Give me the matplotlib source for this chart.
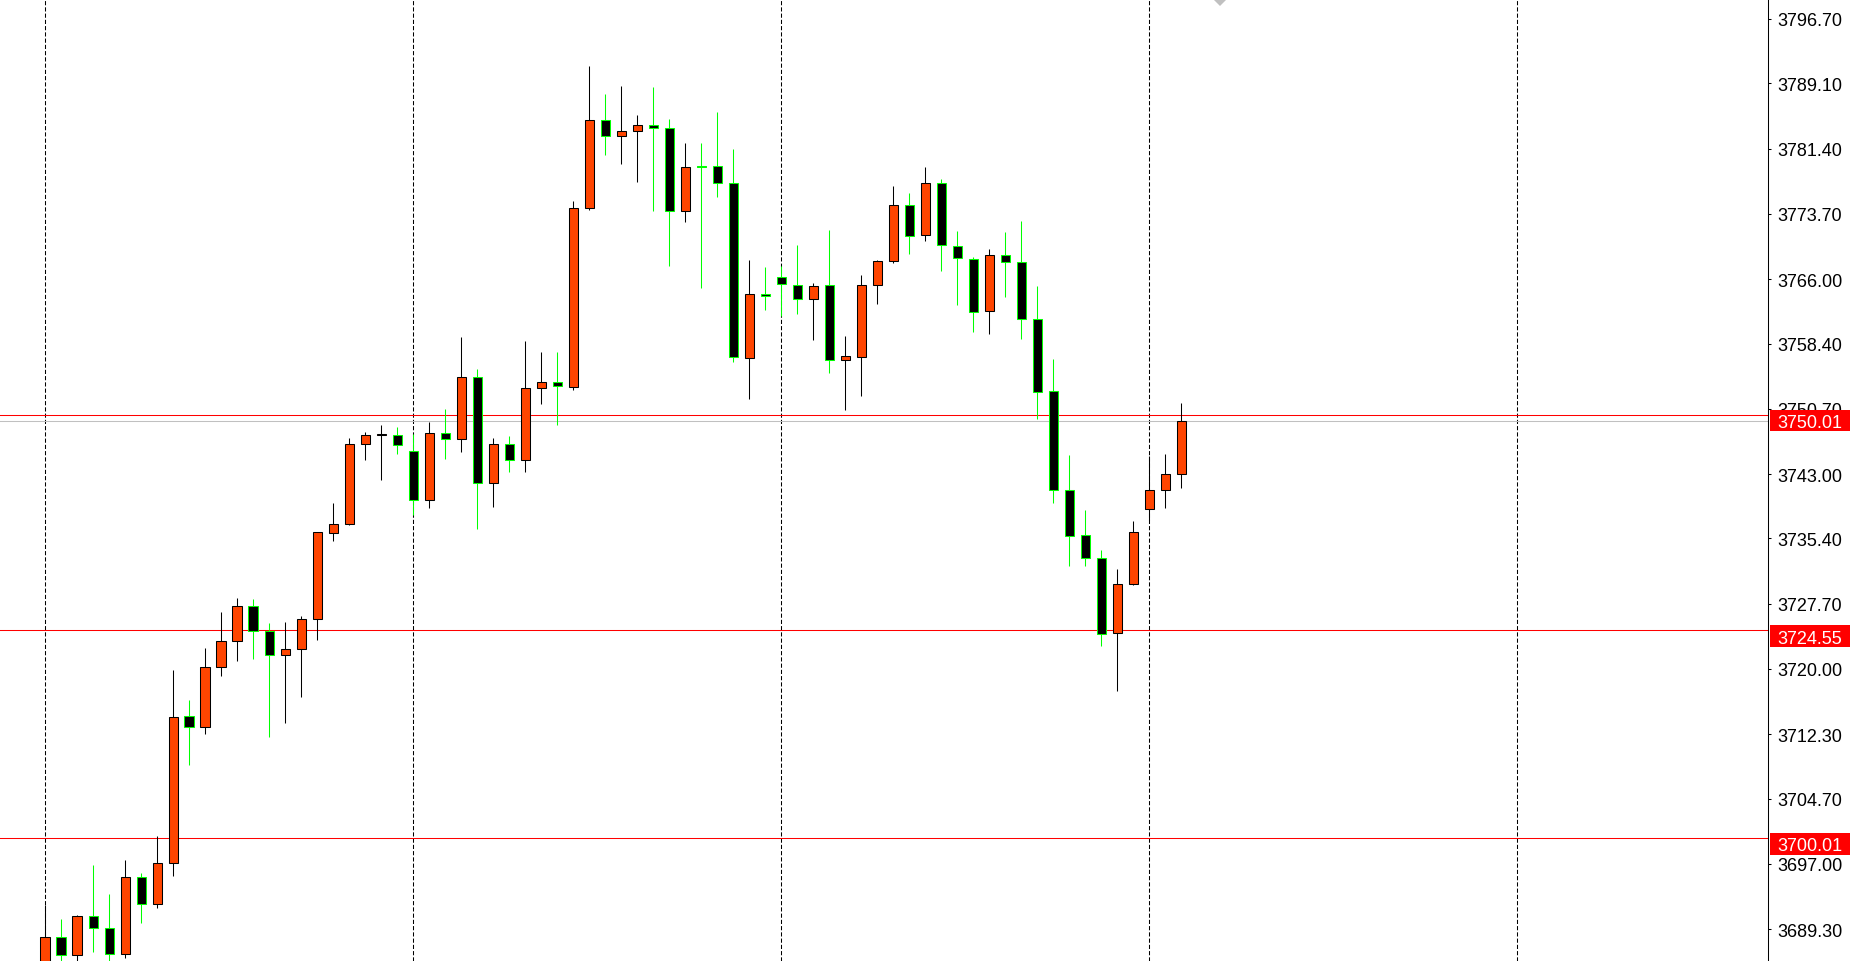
import matplotlib.pyplot as plt
from matplotlib.patches import Rectangle, Polygon
from matplotlib.transforms import blended_transform_factory

# OHLC, one bar per slot
opens = [3684.0, 3688.3, 3686.2, 3690.8, 3689.4, 3686.3, 3695.4, 3692.2, 3697.05, 3714.4,
         3713.1, 3720.2, 3723.25, 3727.4, 3724.5, 3721.6, 3722.3, 3725.85, 3736.0, 3737.1,
         3746.5, 3747.65, 3747.6, 3745.7, 3739.9, 3747.8, 3747.1, 3754.5, 3741.9, 3746.5,
         3744.6, 3753.15, 3753.9, 3753.3, 3774.35, 3784.8, 3782.85, 3783.5, 3784.15, 3783.8,
         3774.0, 3779.3, 3779.3, 3777.4, 3756.65, 3764.3, 3766.3, 3765.3, 3763.7, 3765.3,
         3756.4, 3756.85, 3765.3, 3768.1, 3774.8, 3771.25, 3777.4, 3769.95, 3768.35, 3762.2,
         3768.9, 3768.0, 3761.25, 3752.75, 3741.1, 3735.75, 3733.05, 3724.2, 3730.0, 3738.85,
         3741.1, 3742.95]
highs = [3692.1, 3690.5, 3690.95, 3696.85, 3693.4, 3697.4, 3695.9, 3700.3, 3719.9, 3716.3,
         3722.5, 3726.7, 3728.4, 3728.25, 3725.4, 3725.5, 3726.2, 3736.2, 3739.6, 3747.25,
         3748.0, 3748.8, 3748.55, 3747.7, 3749.1, 3750.7, 3759.2, 3755.4, 3747.25, 3747.5,
         3758.7, 3757.4, 3757.4, 3775.2, 3791.15, 3787.85, 3788.8, 3785.4, 3788.7, 3784.9,
         3782.05, 3782.05, 3785.7, 3781.35, 3768.2, 3767.4, 3767.6, 3770.0, 3765.55, 3771.8,
         3759.3, 3766.5, 3768.25, 3777.0, 3776.2, 3779.2, 3777.8, 3771.7, 3768.6, 3769.55,
         3771.55, 3772.85, 3765.2, 3756.6, 3745.25, 3738.75, 3734.0, 3731.8, 3737.45, 3745.1,
         3745.35, 3751.4]
lows = [3683.0, 3685.0, 3685.2, 3686.6, 3685.2, 3685.9, 3690.05, 3691.8, 3695.5, 3708.6,
        3712.3, 3719.2, 3720.96, 3721.2, 3712.0, 3713.65, 3716.7, 3723.4, 3735.1, 3737.0,
        3744.6, 3742.3, 3745.4, 3738.2, 3739.0, 3744.8, 3745.6, 3736.5, 3739.1, 3743.2,
        3743.2, 3751.3, 3748.8, 3752.95, 3774.2, 3780.7, 3779.6, 3777.5, 3774.0, 3767.5,
        3772.8, 3764.9, 3775.7, 3756.2, 3751.9, 3762.4, 3761.6, 3761.9, 3758.85, 3754.95,
        3750.5, 3752.2, 3763.1, 3767.9, 3769.0, 3770.5, 3767.0, 3763.0, 3759.8, 3759.55,
        3763.9, 3758.95, 3749.5, 3739.6, 3732.2, 3732.2, 3722.7, 3717.4, 3729.9, 3737.6,
        3739.0, 3741.3]
closes = [3688.3, 3686.2, 3690.8, 3689.4, 3686.4, 3695.4, 3692.2, 3697.05, 3714.3, 3713.1,
          3720.2, 3723.25, 3727.4, 3724.5, 3721.6, 3722.3, 3725.85, 3736.1, 3737.1, 3746.5,
          3747.6, 3747.7, 3746.4, 3739.9, 3747.8, 3747.1, 3754.5, 3741.9, 3746.5, 3744.7,
          3753.15, 3753.9, 3753.35, 3774.35, 3784.8, 3782.85, 3783.5, 3784.2, 3783.85, 3774.0,
          3779.2, 3779.25, 3777.4, 3756.8, 3764.3, 3764.0, 3765.4, 3763.7, 3765.15, 3756.45,
          3756.9, 3765.3, 3768.1, 3774.8, 3771.1, 3777.4, 3770.0, 3768.45, 3762.1, 3768.9,
          3768.0, 3761.25, 3752.7, 3741.1, 3735.65, 3733.05, 3724.1, 3730.0, 3736.1, 3741.1,
          3742.95, 3749.3]

level_prices = [3750.01, 3724.55, 3700.01]
bid_price = 3749.3
tick_values = [3796.70, 3789.10, 3781.40, 3773.70, 3766.00, 3758.40, 3750.70, 3743.00,
               3735.40, 3727.70, 3720.00, 3712.30, 3704.70, 3697.00, 3689.30]
grid_bars = [0, 23, 46, 69, 92]

plt.rcParams['font.family'] = ['Liberation Sans', 'DejaVu Sans']

W, H = 1856, 962
axis_px = 1768
px_per_bar = 16
x0_px = 45.3
px_per_unit = 8.473

fig = plt.figure(figsize=(W / 100, H / 100), dpi=100)
ax = fig.add_axes([0, 0, axis_px / W, 1])
ax.set_xlim(-x0_px / px_per_bar, (axis_px - x0_px) / px_per_bar)
ax.set_ylim(3796.7 - (H - 20) / px_per_unit, 3796.7 + 20 / px_per_unit)

for g in grid_bars:
    ax.axvline(g, color="black", lw=0.75, linestyle=(0, (4, 2)), zorder=1)

ax.axhline(bid_price, color="#c0c0c0", lw=0.75, zorder=1)
for p in level_prices:
    ax.axhline(p, color="red", lw=0.75, zorder=1.5)

up_body, up_edge = "#ff4500", "black"
dn_body, dn_edge = "black", "#00ff00"
for i in range(len(opens)):
    o, h, l, c = opens[i], highs[i], lows[i], closes[i]
    bull = c >= o
    edge = up_edge if bull else dn_edge
    ax.vlines(i, l, h, colors=edge, lw=0.75, zorder=2)
    ax.bar(i, abs(c - o), bottom=min(o, c), width=0.6,
           color=up_body if bull else dn_body, edgecolor=edge, linewidth=0.75, zorder=3)

for s in ["top", "left", "bottom"]:
    ax.spines[s].set_visible(False)
ax.spines["right"].set_linewidth(0.75)
ax.set_xticks([])
ax.yaxis.tick_right()
ax.set_yticks(tick_values)
ax.set_yticklabels([f"{v:.2f}" for v in tick_values])
ax.tick_params(axis="y", direction="out", length=2.2, width=0.75, pad=4.3,
               labelsize=13, colors="black")

# price labels on the scale (box sits a little below its line, as in MT4)
trans = blended_transform_factory(ax.transAxes, ax.transData)
for p in level_prices:
    ax.add_patch(Rectangle((1770 / axis_px, p - 16.5 / px_per_unit), 80 / axis_px,
                           21.5 / px_per_unit, transform=trans, facecolor="red",
                           edgecolor="none", clip_on=False, zorder=5))
    ax.text(1777 / axis_px, p - 12.2 / px_per_unit, f"{p:.2f}", transform=trans,
            color="white", fontsize=13, va="baseline", ha="left", clip_on=False, zorder=6)

# chart shift marker
ax.add_patch(Polygon([(1213 / axis_px, 1), (1227 / axis_px, 1), (1220 / axis_px, 1 - 7 / H)],
                     closed=True, transform=ax.transAxes, facecolor="#c0c0c0",
                     edgecolor="none", clip_on=False, zorder=4))

fig.savefig("out.png", dpi=100)
